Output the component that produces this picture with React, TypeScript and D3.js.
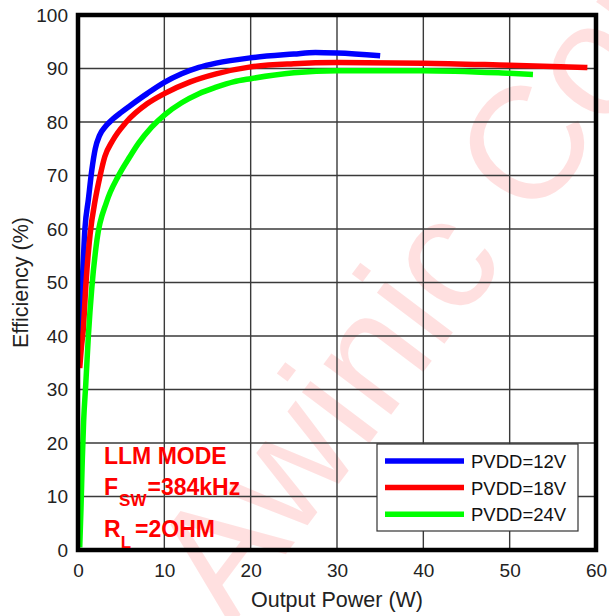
import React, { useEffect, useRef } from 'react';
import * as d3 from 'd3';

// PVDD = 12V
const power12 = [0.2, 0.3, 0.55, 0.8, 1.2, 1.6, 2.0, 2.5, 3.2, 4, 5, 6, 8, 10, 12, 14, 16, 20, 25, 27.5, 30, 35];
const eff12 = [40, 45, 52, 60, 65.5, 71, 75, 77.5, 79.2, 80.5, 81.8, 83, 85.3, 87.4, 89, 90.2, 91, 92, 92.7, 93, 92.9, 92.4];

// PVDD = 18V
const power18 = [0.2, 0.4, 0.6, 0.93, 1.4, 2, 2.5, 3.1, 4, 5.6, 8, 10, 13, 16, 20, 25, 30, 40, 50, 59];
const eff18 = [34, 38, 41, 50, 59, 65.5, 69.5, 73.5, 76.5, 80, 83.4, 85.3, 87.5, 89, 90.3, 90.9, 91.1, 91, 90.6, 90.2];

// PVDD = 24V
const power24 = [0.2, 0.35, 0.5, 0.65, 0.9, 1.2, 1.6, 2.2, 3.3, 4.7, 6, 7, 8.5, 10, 12, 14, 16, 18, 20, 25, 30, 40, 50, 52.7];
const eff24 = [0.5, 8, 17, 24, 31, 40, 49, 58, 65, 70, 73.5, 76, 79, 81.3, 83.6, 85.3, 86.5, 87.5, 88.1, 89.2, 89.6, 89.6, 89.1, 88.9];

const seriesNames = ['PVDD=12V', 'PVDD=18V', 'PVDD=24V'];
const seriesColors = ['#0000ff', '#ff0000', '#00ff00'];

const xTicks = [0, 10, 20, 30, 40, 50, 60];
const yTicks = [0, 10, 20, 30, 40, 50, 60, 70, 80, 90, 100];

const FONT = 'Arial, "Liberation Sans", sans-serif';

const App: React.FC = () => {
  const ref = useRef<SVGSVGElement | null>(null);

  useEffect(() => {
    if (!ref.current) return;
    const svg = d3.select(ref.current);
    svg.selectAll('*').remove();

    const width = 609;
    const height = 616;
    const margin = { top: 15, right: 13, bottom: 66, left: 78 };
    const innerWidth = width - margin.left - margin.right;
    const innerHeight = height - margin.top - margin.bottom;

    svg.append('rect').attr('width', width).attr('height', height).attr('fill', '#fff');

    // watermark
    svg.append('text')
      .attr('transform', 'translate(231,627) rotate(-53)')
      .attr('font-family', FONT)
      .attr('font-size', 160)
      .attr('fill', '#ff0000')
      .attr('fill-opacity', 0.12)
      .text('Awinic Confidential');

    const g = svg.append('g').attr('transform', `translate(${margin.left},${margin.top})`);

    const x = d3.scaleLinear().domain([0, 60]).range([0, innerWidth]);
    const y = d3.scaleLinear().domain([0, 100]).range([innerHeight, 0]);

    // grid
    g.append('g')
      .selectAll('line')
      .data(xTicks.slice(1, -1))
      .enter()
      .append('line')
      .attr('x1', d => x(d)).attr('x2', d => x(d))
      .attr('y1', 0).attr('y2', innerHeight)
      .attr('stroke', '#3a3a3a').attr('stroke-width', 1.4);

    g.append('g')
      .selectAll('line')
      .data(yTicks.slice(1, -1))
      .enter()
      .append('line')
      .attr('y1', d => y(d)).attr('y2', d => y(d))
      .attr('x1', 0).attr('x2', innerWidth)
      .attr('stroke', '#3a3a3a').attr('stroke-width', 1.4);

    // axes labels
    const yAxis = g.append('g')
      .call(d3.axisLeft(y).tickValues(yTicks).tickSize(0).tickPadding(10));
    yAxis.select('.domain').remove();
    yAxis.selectAll('text').attr('font-size', 19).attr('font-family', FONT).attr('fill', '#222');

    const xAxis = g.append('g')
      .attr('transform', `translate(0,${innerHeight})`)
      .call(d3.axisBottom(x).tickValues(xTicks).tickSize(0).tickPadding(14));
    xAxis.select('.domain').remove();
    xAxis.selectAll('text').attr('font-size', 19).attr('font-family', FONT).attr('fill', '#222');

    svg.append('text')
      .attr('x', margin.left + innerWidth / 2)
      .attr('y', 607)
      .attr('text-anchor', 'middle')
      .attr('font-family', FONT)
      .attr('font-size', 21.5)
      .attr('fill', '#222')
      .text('Output Power (W)');

    svg.append('text')
      .attr('transform', `translate(28,${margin.top + innerHeight / 2}) rotate(-90)`)
      .attr('text-anchor', 'middle')
      .attr('font-family', FONT)
      .attr('font-size', 21.5)
      .attr('fill', '#222')
      .text('Efficiency (%)');

    // curves
    const series = [
      { p: power12, e: eff12 },
      { p: power18, e: eff18 },
      { p: power24, e: eff24 },
    ];
    const line = d3.line<[number, number]>()
      .x(d => x(d[0]))
      .y(d => y(d[1]))
      .curve(d3.curveMonotoneX);

    series.forEach((s, i) => {
      const pts = s.p.map((p, j) => [p, s.e[j]] as [number, number]);
      g.append('path')
        .datum(pts)
        .attr('fill', 'none')
        .attr('stroke', seriesColors[i])
        .attr('stroke-width', 5.5)
        .attr('stroke-linejoin', 'round')
        .attr('d', line);
    });

    // frame
    g.append('rect')
      .attr('width', innerWidth).attr('height', innerHeight)
      .attr('fill', 'none').attr('stroke', '#000').attr('stroke-width', 4.5);

    // annotation
    const ann = svg.append('g')
      .attr('font-family', FONT)
      .attr('font-weight', 'bold')
      .attr('fill', '#ff0000')
      .attr('font-size', 23);
    ann.append('text').attr('x', 104).attr('y', 464).text('LLM MODE');
    const f = ann.append('text').attr('x', 104).attr('y', 495);
    f.append('tspan').text('F');
    f.append('tspan').attr('dx', 1).attr('dy', 11).attr('font-size', 17).text('SW');
    f.append('tspan').attr('dx', 1).attr('dy', -11).text('=384kHz');
    const r = ann.append('text').attr('x', 104).attr('y', 537);
    r.append('tspan').text('R');
    r.append('tspan').attr('dy', 11).attr('font-size', 17).text('L');
    r.append('tspan').attr('dx', 4).attr('dy', -11).text('=2OHM');

    // legend
    const lg = svg.append('g');
    lg.append('rect')
      .attr('x', 377).attr('y', 444).attr('width', 201).attr('height', 87)
      .attr('fill', '#fff').attr('stroke', '#333').attr('stroke-width', 1.2);
    seriesNames.forEach((name, i) => {
      const cy = 461 + i * 26.6;
      lg.append('line')
        .attr('x1', 385).attr('x2', 464).attr('y1', cy).attr('y2', cy)
        .attr('stroke', seriesColors[i]).attr('stroke-width', 5.5);
      lg.append('text')
        .attr('x', 471).attr('y', cy + 7)
        .attr('font-family', FONT).attr('font-size', 18.5).attr('fill', '#111')
        .text(name);
    });
  }, []);

  return (
    <svg
      ref={ref}
      width={609}
      height={616}
      style={{ position: 'absolute', left: 0, top: 0, display: 'block' }}
    />
  );
};

export default App;
